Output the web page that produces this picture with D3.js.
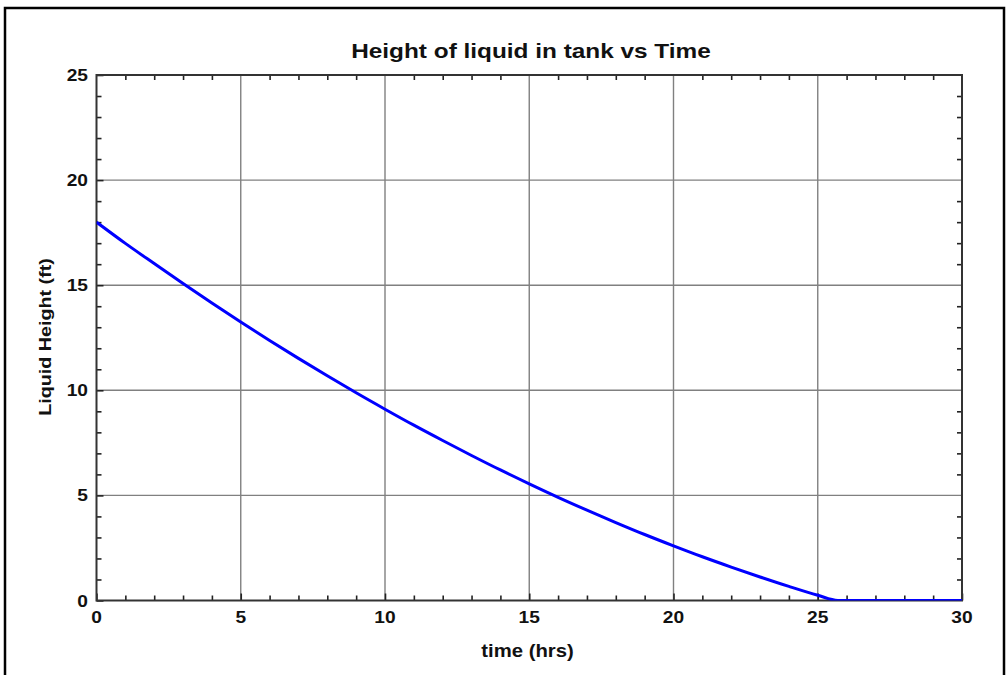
<!DOCTYPE html>
<html>
<head>
<meta charset="utf-8">
<script src="https://cdn.jsdelivr.net/npm/d3@7"></script>
<style>
html,body{margin:0;padding:0;background:#fff;}
svg{display:block;}
text{font-family:"Liberation Sans",Arial,sans-serif;font-weight:bold;fill:#111;}
</style>
</head>
<body>
<svg id="chart" width="1008" height="675"></svg>
<script>
// Data
const timeHrs = [0,1,2,3,4,5,6,7,8,9,10,11,12,13,14,15,16,17,18,19,20,21,22,23,24,25,25.7,26,27,28,29,30];
const heightFt = [18.0,16.99,16.03,15.08,14.15,13.25,12.37,11.52,10.69,9.88,9.1,8.34,7.61,6.9,6.21,5.55,4.91,4.3,3.71,3.14,2.6,2.08,1.59,1.12,0.67,0.25,0,0,0,0,0,0];
const xTicks = [0,5,10,15,20,25,30];
const yTicks = [0,5,10,15,20,25];
const xMinor = [1,2,3,4,6,7,8,9,11,12,13,14,16,17,18,19,21,22,23,24,26,27,28,29];
const yMinor = [1,2,3,4,6,7,8,9,11,12,13,14,16,17,18,19,21,22,23,24];
const titleText = "Height of liquid in tank vs Time";
const xLabel = "time (hrs)";
const yLabel = "Liquid Height (ft)";

const svg = d3.select("#chart");
const L = 96.5, R = 962, T = 75, B = 600.5;
const x = d3.scaleLinear().domain([0,30]).range([L,R]);
const y = d3.scaleLinear().domain([0,25]).range([B,T]);

function stretch(sel, f){
  sel.each(function(){
    const l = this.getComputedTextLength();
    this.setAttribute("textLength", l*f);
    this.setAttribute("lengthAdjust","spacingAndGlyphs");
  });
}

// outer frame
svg.append("rect").attr("x",5).attr("y",8).attr("width",999).attr("height",700)
  .attr("fill","none").attr("stroke","#000").attr("stroke-width",2.5);

svg.append("defs").append("clipPath").attr("id","plotclip")
  .append("rect").attr("x",L).attr("y",T).attr("width",R-L).attr("height",B-T);

// grid
const g = svg.append("g");
g.selectAll(".vg").data(xTicks.slice(1,-1)).join("line")
  .attr("x1",d=>x(d)).attr("x2",d=>x(d)).attr("y1",T).attr("y2",B)
  .attr("stroke","#808080").attr("stroke-width",1.4);
g.selectAll(".hg").data(yTicks.slice(1,-1)).join("line")
  .attr("y1",d=>y(d)).attr("y2",d=>y(d)).attr("x1",L).attr("x2",R)
  .attr("stroke","#808080").attr("stroke-width",1.4);

// axes with inward ticks
const tickStyle = s => { s.select(".domain").remove(); s.selectAll("line").attr("stroke","#222").attr("stroke-width",1.6); s.selectAll("text").remove(); };
svg.append("g").attr("transform",`translate(0,${B})`).call(d3.axisBottom(x).tickValues(xMinor).tickSizeInner(-5).tickSizeOuter(0)).call(tickStyle);
svg.append("g").attr("transform",`translate(0,${T})`).call(d3.axisTop(x).tickValues(xMinor).tickSizeInner(-5).tickSizeOuter(0)).call(tickStyle);
svg.append("g").attr("transform",`translate(${L},0)`).call(d3.axisLeft(y).tickValues(yMinor).tickSizeInner(-5).tickSizeOuter(0)).call(tickStyle);
svg.append("g").attr("transform",`translate(${R},0)`).call(d3.axisRight(y).tickValues(yMinor).tickSizeInner(-5).tickSizeOuter(0)).call(tickStyle);
svg.append("g").attr("transform",`translate(0,${B})`).call(d3.axisBottom(x).tickValues(xTicks).tickSizeInner(-7).tickSizeOuter(0)).call(tickStyle);
svg.append("g").attr("transform",`translate(${L},0)`).call(d3.axisLeft(y).tickValues(yTicks).tickSizeInner(-7).tickSizeOuter(0)).call(tickStyle);

// plot frame
svg.append("rect").attr("x",L).attr("y",T).attr("width",R-L).attr("height",B-T)
  .attr("fill","none").attr("stroke","#333").attr("stroke-width",2);

// line
const line = d3.line().x((d,i)=>x(timeHrs[i])).y(d=>y(d)).curve(d3.curveMonotoneX);
svg.append("path").datum(heightFt).attr("d",line).attr("clip-path","url(#plotclip)")
  .attr("fill","none").attr("stroke","#0000ff").attr("stroke-width",3);

// tick labels
const xl = svg.append("g").selectAll("text").data(xTicks).join("text")
  .attr("x",d=>x(d)).attr("y",623).attr("text-anchor","middle")
  .style("font-size","16.5px").text(d=>d);
stretch(xl,1.16);
const yl = svg.append("g").selectAll("text").data(yTicks).join("text")
  .attr("x",88).attr("y",d=>y(d)+6).attr("text-anchor","end")
  .style("font-size","16.5px").text(d=>d);
stretch(yl,1.16);

// title and labels
const tt = svg.append("text").attr("x",531).attr("y",58).attr("text-anchor","middle")
  .style("font-size","21px").text(titleText);
stretch(tt,1.16);
const xt = svg.append("text").attr("x",527.5).attr("y",657).attr("text-anchor","middle")
  .style("font-size","17.5px").text(xLabel);
stretch(xt,1.16);
const yt = svg.append("text").attr("transform","translate(51,337) rotate(-90)").attr("text-anchor","middle")
  .style("font-size","17px").text(yLabel);
stretch(yt,1.16);
</script>
</body>
</html>
